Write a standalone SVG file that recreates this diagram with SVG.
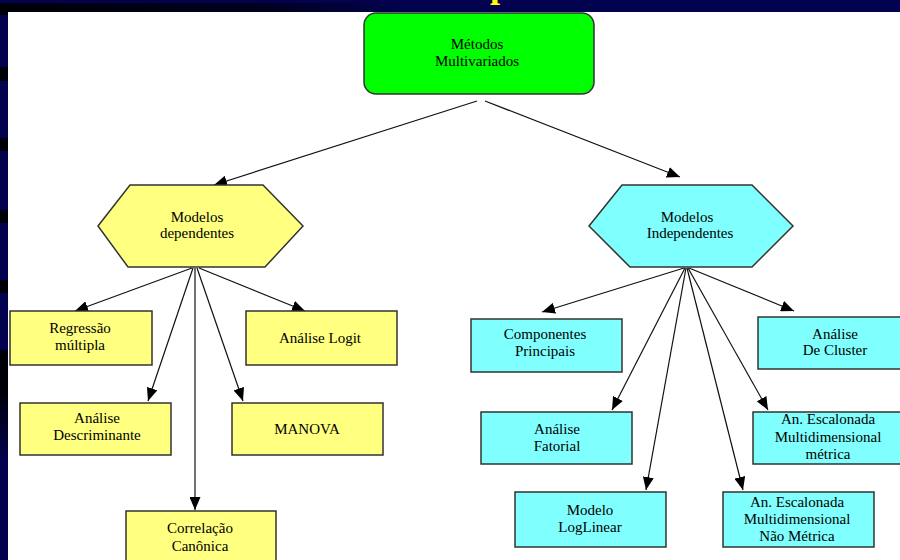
<svg xmlns="http://www.w3.org/2000/svg" width="900" height="560" viewBox="0 0 900 560" font-family="Liberation Serif, DejaVu Serif, Times New Roman, serif">
  <defs>
    <linearGradient id="bandTop" x1="0" y1="0" x2="1" y2="0">
      <stop offset="0" stop-color="#000008"/>
      <stop offset="0.3" stop-color="#000020"/>
      <stop offset="0.45" stop-color="#02024e"/>
      <stop offset="1" stop-color="#02024e"/>
    </linearGradient>
    <linearGradient id="stripFade" x1="0" y1="0" x2="0" y2="1">
      <stop offset="0" stop-color="#000008"/>
      <stop offset="1" stop-color="#02024e"/>
    </linearGradient>
    <marker id="arrow" markerUnits="userSpaceOnUse" markerWidth="13" markerHeight="11" refX="13" refY="5.5" orient="auto">
      <path d="M0,0 L13,5.5 L0,11 z" fill="#000"/>
    </marker>
    <style>
      text { font-family: "Liberation Serif", "DejaVu Serif", "Times New Roman", serif; }
      .lbl { font-size: 15px; fill: #000; text-anchor: middle; }
      .title { font-size: 36px; font-weight: bold; fill: #ffff00; }
      .dep { fill: #ffff80; stroke: #333; stroke-width: 1.5; }
      .ind { fill: #80ffff; stroke: #333; stroke-width: 1.5; }
      .root { fill: #00ff00; stroke: #333; stroke-width: 1.5; }
      .edge { stroke: #111; stroke-width: 1.2; fill: none; marker-end: url(#arrow); }
    </style>
  </defs>

  <!-- slide frame -->
  <rect x="0" y="0" width="900" height="560" fill="#02024e"/>
  <rect x="0" y="0" width="900" height="12" fill="url(#bandTop)"/>
  <rect x="0" y="0" width="900" height="3" fill="#02024e"/>
  <text class="title" x="490" y="-3">p</text>
  <rect x="0" y="3" width="8" height="12" fill="#000008"/>
  <rect x="0" y="67" width="8" height="14" fill="#000008"/>
  <rect x="0" y="138" width="8" height="13" fill="#000008"/>
  <rect x="0" y="210" width="8" height="13" fill="#000008"/>
  <rect x="0" y="280" width="8" height="13" fill="#000008"/>
  <rect x="0" y="350" width="8" height="40" fill="#000008"/>
  <rect x="0" y="390" width="8" height="70" fill="url(#stripFade)"/>
  <rect x="8" y="12" width="892" height="548" fill="#ffffff"/>

  <!-- connectors -->
  <g id="connectors">
    <line class="edge" x1="477" y1="101" x2="214" y2="185"/>
    <line class="edge" x1="485" y1="101" x2="680" y2="177"/>

    <line class="edge" x1="192" y1="268" x2="75" y2="311"/>
    <line class="edge" x1="193" y1="268" x2="148" y2="401"/>
    <line class="edge" x1="195" y1="268" x2="195" y2="510"/>
    <line class="edge" x1="197" y1="268" x2="243" y2="401"/>
    <line class="edge" x1="199" y1="268" x2="305" y2="311"/>

    <line class="edge" x1="684" y1="268" x2="542" y2="312"/>
    <line class="edge" x1="685" y1="268" x2="612" y2="410"/>
    <line class="edge" x1="686" y1="268" x2="646" y2="490"/>
    <line class="edge" x1="687" y1="268" x2="743" y2="490"/>
    <line class="edge" x1="688" y1="268" x2="768" y2="410"/>
    <line class="edge" x1="689" y1="268" x2="794" y2="311"/>
  </g>

  <!-- root -->
  <g id="metodos">
    <rect class="root" x="364" y="13" width="230" height="81" rx="12" ry="12"/>
    <text class="lbl" x="477" y="49">Métodos</text>
    <text class="lbl" x="477" y="66">Multivariados</text>
  </g>

  <!-- dependent branch -->
  <g id="dependentes">
    <polygon class="dep" points="98,226 130,185 263,185 303,226 265,267 128,267"/>
    <text class="lbl" x="197" y="222">Modelos</text>
    <text class="lbl" x="197" y="238">dependentes</text>
  </g>
  <g id="regressao">
    <rect class="dep" x="10" y="311" width="142" height="54"/>
    <text class="lbl" x="80" y="333">Regressão</text>
    <text class="lbl" x="80" y="350">múltipla</text>
  </g>
  <g id="logit">
    <rect class="dep" x="246" y="311" width="151" height="54"/>
    <text class="lbl" x="320" y="343">Análise Logit</text>
  </g>
  <g id="descriminante">
    <rect class="dep" x="20" y="403" width="151" height="52"/>
    <text class="lbl" x="97" y="423">Análise</text>
    <text class="lbl" x="97" y="440">Descriminante</text>
  </g>
  <g id="manova">
    <rect class="dep" x="232" y="403" width="151" height="52"/>
    <text class="lbl" x="307" y="434">MANOVA</text>
  </g>
  <g id="canonica">
    <rect class="dep" x="126" y="511" width="150" height="60"/>
    <text class="lbl" x="200" y="533">Correlação</text>
    <text class="lbl" x="200" y="551">Canônica</text>
  </g>

  <!-- independent branch -->
  <g id="independentes">
    <polygon class="ind" points="589,226 622,185 752,185 793,226 752,267 630,267"/>
    <text class="lbl" x="687" y="222">Modelos</text>
    <text class="lbl" x="690" y="238">Independentes</text>
  </g>
  <g id="componentes">
    <rect class="ind" x="471" y="319" width="151" height="53"/>
    <text class="lbl" x="545" y="339">Componentes</text>
    <text class="lbl" x="545" y="356">Principais</text>
  </g>
  <g id="cluster">
    <rect class="ind" x="758" y="317" width="150" height="52"/>
    <text class="lbl" x="835" y="339">Análise</text>
    <text class="lbl" x="835" y="355">De Cluster</text>
  </g>
  <g id="fatorial">
    <rect class="ind" x="481" y="412" width="151" height="52"/>
    <text class="lbl" x="557" y="434">Análise</text>
    <text class="lbl" x="557" y="451">Fatorial</text>
  </g>
  <g id="metrica">
    <rect class="ind" x="753" y="412" width="155" height="52"/>
    <text class="lbl" x="828" y="424">An. Escalonada</text>
    <text class="lbl" x="828" y="442">Multidimensional</text>
    <text class="lbl" x="828" y="459">métrica</text>
  </g>
  <g id="loglinear">
    <rect class="ind" x="515" y="492" width="151" height="55"/>
    <text class="lbl" x="590" y="515">Modelo</text>
    <text class="lbl" x="590" y="532">LogLinear</text>
  </g>
  <g id="naometrica">
    <rect class="ind" x="723" y="492" width="151" height="55"/>
    <text class="lbl" x="797" y="507">An. Escalonada</text>
    <text class="lbl" x="797" y="524">Multidimensional</text>
    <text class="lbl" x="797" y="541">Não Métrica</text>
  </g>
</svg>
